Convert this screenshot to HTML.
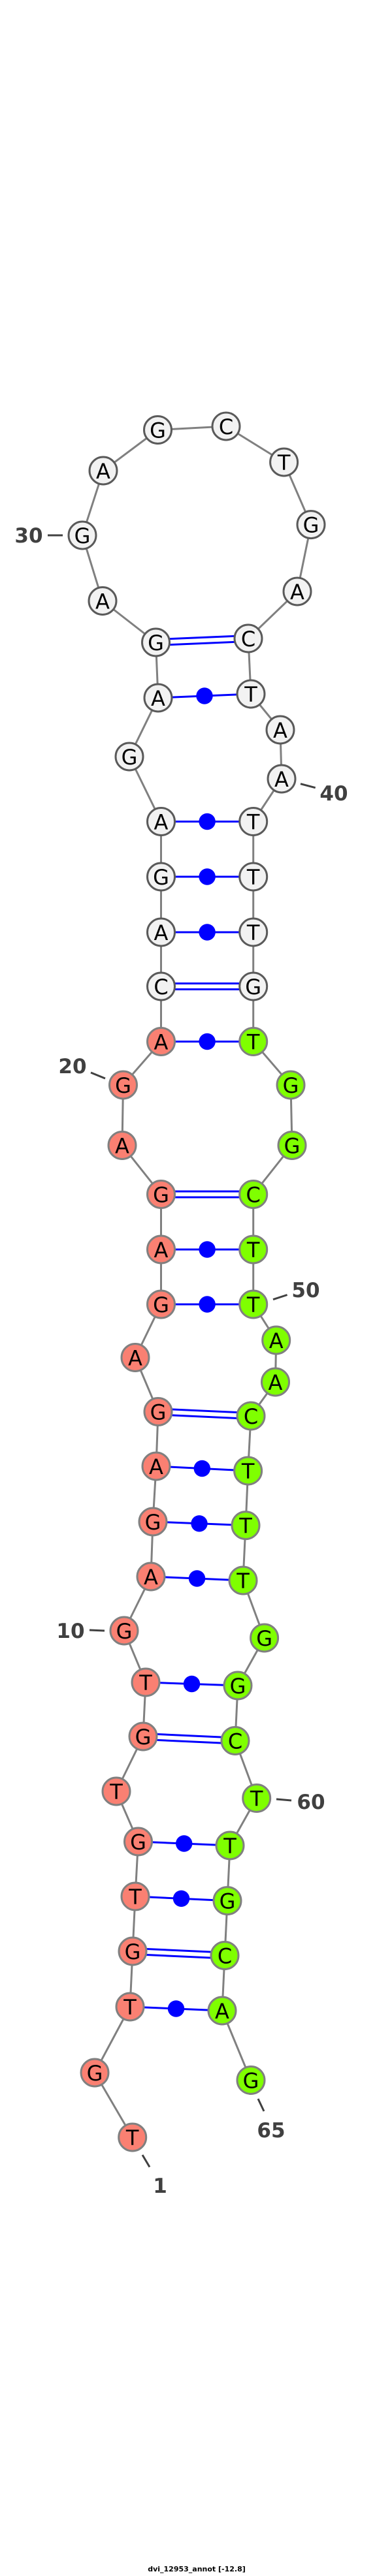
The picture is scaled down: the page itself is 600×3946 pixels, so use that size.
<!DOCTYPE html>
<html><head><meta charset="utf-8"><style>
html,body{margin:0;padding:0;background:#fff}
svg{display:block}
.bb{stroke:#808080;stroke-width:3;fill:none}
.p{stroke:#0000ff;stroke-width:3}
.w{fill:#f2f2f2;stroke:#5a5a5a;stroke-width:3}
.r{fill:#fa8072;stroke:#808080;stroke-width:3}
.g{fill:#7fff00;stroke:#808080;stroke-width:3}
.t{font-family:"DejaVu Sans","Liberation Sans",sans-serif;font-size:32px;text-anchor:middle;fill:#000}
.n{font-family:"DejaVu Sans","Liberation Sans",sans-serif;font-size:31px;font-weight:bold;text-anchor:middle;fill:#404040}
.k{stroke:#404040;stroke-width:3}
</style></head><body>
<svg width="600" height="3946" viewBox="0 0 600 3946" xmlns="http://www.w3.org/2000/svg">
<polyline class="bb" points="202.7,3274 145,3175 199,3074 203,2989 207,2905 211.5,2821 178,2744 219,2660 223,2577 190,2498 231,2415 234,2331 239,2246 242,2162.5 207,2079.5 246.5,1998 246.5,1914 246.5,1829.5 187,1754.5 188.5,1662 246.5,1595.5 246.5,1511 246.5,1428 246.5,1343 246.5,1258.5 198,1159 242,1069 238.5,984 157,920.5 126,820 158,721 241.5,658.5 346,653 434.6,708 476,803.6 455,906 380,978 384,1063 429,1118 431,1193 387.7,1258.5 387.7,1343 387.7,1428 387.7,1511 387.7,1595.5 445,1662 447,1754.5 387.7,1829.5 387.7,1914 387.7,1998 422.7,2053 421.5,2117 384,2169 379.6,2253 376,2336.6 372,2421 404.6,2509 364,2582 360,2666.5 392.7,2754.5 352,2827 348,2911.6 344,2995.5 340,3080 384,3186.5"/>
<!-- pairs: dots -->
<g class="p">
<line x1="199" y1="3074" x2="340" y2="3080"/>
<line x1="207" y1="2905" x2="348" y2="2911.6"/>
<line x1="211.5" y1="2821" x2="352" y2="2827"/>
<line x1="223" y1="2577" x2="364" y2="2582"/>
<line x1="231" y1="2415" x2="372" y2="2421"/>
<line x1="234" y1="2331" x2="376" y2="2336.6"/>
<line x1="239" y1="2246" x2="379.6" y2="2253"/>
<line x1="246.5" y1="1998" x2="387.7" y2="1998"/>
<line x1="246.5" y1="1914" x2="387.7" y2="1914"/>
<line x1="246.5" y1="1595.5" x2="387.7" y2="1595.5"/>
<line x1="246.5" y1="1428" x2="387.7" y2="1428"/>
<line x1="246.5" y1="1343" x2="387.7" y2="1343"/>
<line x1="246.5" y1="1258.5" x2="387.7" y2="1258.5"/>
<line x1="242" y1="1069" x2="384" y2="1063"/>
<!-- doubles -->
<line x1="203" y1="2984.5" x2="344" y2="2991"/><line x1="203" y1="2993.5" x2="344" y2="3000"/>
<line x1="219" y1="2655.5" x2="360" y2="2662"/><line x1="219" y1="2664.5" x2="360" y2="2671"/>
<line x1="242" y1="2158" x2="384" y2="2164.5"/><line x1="242" y1="2167" x2="384" y2="2173.5"/>
<line x1="246.5" y1="1825" x2="387.7" y2="1825"/><line x1="246.5" y1="1834" x2="387.7" y2="1834"/>
<line x1="246.5" y1="1506.5" x2="387.7" y2="1506.5"/><line x1="246.5" y1="1515.5" x2="387.7" y2="1515.5"/>
<line x1="238.5" y1="979.5" x2="380" y2="973.5"/><line x1="238.5" y1="988.5" x2="380" y2="982.5"/>
</g>
<g fill="#0000ff">
<circle cx="269.5" cy="3077" r="12.7"/>
<circle cx="277.5" cy="2908.3" r="12.7"/>
<circle cx="281.7" cy="2824" r="12.7"/>
<circle cx="293.5" cy="2579.5" r="12.7"/>
<circle cx="301.5" cy="2418" r="12.7"/>
<circle cx="305" cy="2333.8" r="12.7"/>
<circle cx="309.3" cy="2249.5" r="12.7"/>
<circle cx="317.1" cy="1998" r="12.7"/>
<circle cx="317.1" cy="1914" r="12.7"/>
<circle cx="317.1" cy="1595.5" r="12.7"/>
<circle cx="317.1" cy="1428" r="12.7"/>
<circle cx="317.1" cy="1343" r="12.7"/>
<circle cx="317.1" cy="1258.5" r="12.7"/>
<circle cx="313" cy="1066" r="12.7"/>
</g>
<!-- nodes -->
<g>
<circle class="r" cx="202.7" cy="3274" r="21"/><text class="t" x="202.7" y="3286">T</text>
<circle class="r" cx="145" cy="3175" r="21"/><text class="t" x="145" y="3187">G</text>
<circle class="r" cx="199" cy="3074" r="21"/><text class="t" x="199" y="3086">T</text>
<circle class="r" cx="203" cy="2989" r="21"/><text class="t" x="203" y="3001">G</text>
<circle class="r" cx="207" cy="2905" r="21"/><text class="t" x="207" y="2917">T</text>
<circle class="r" cx="211.5" cy="2821" r="21"/><text class="t" x="211.5" y="2833">G</text>
<circle class="r" cx="178" cy="2744" r="21"/><text class="t" x="178" y="2756">T</text>
<circle class="r" cx="219" cy="2660" r="21"/><text class="t" x="219" y="2672">G</text>
<circle class="r" cx="223" cy="2577" r="21"/><text class="t" x="223" y="2589">T</text>
<circle class="r" cx="190" cy="2498" r="21"/><text class="t" x="190" y="2510">G</text>
<circle class="r" cx="231" cy="2415" r="21"/><text class="t" x="231" y="2427">A</text>
<circle class="r" cx="234" cy="2331" r="21"/><text class="t" x="234" y="2343">G</text>
<circle class="r" cx="239" cy="2246" r="21"/><text class="t" x="239" y="2258">A</text>
<circle class="r" cx="242" cy="2162.5" r="21"/><text class="t" x="242" y="2174.5">G</text>
<circle class="r" cx="207" cy="2079.5" r="21"/><text class="t" x="207" y="2091.5">A</text>
<circle class="r" cx="246.5" cy="1998" r="21"/><text class="t" x="246.5" y="2010">G</text>
<circle class="r" cx="246.5" cy="1914" r="21"/><text class="t" x="246.5" y="1926">A</text>
<circle class="r" cx="246.5" cy="1829.5" r="21"/><text class="t" x="246.5" y="1841.5">G</text>
<circle class="r" cx="187" cy="1754.5" r="21"/><text class="t" x="187" y="1766.5">A</text>
<circle class="r" cx="188.5" cy="1662" r="21"/><text class="t" x="188.5" y="1674">G</text>
<circle class="r" cx="246.5" cy="1595.5" r="21"/><text class="t" x="246.5" y="1607.5">A</text>
<circle class="w" cx="246.5" cy="1511" r="21"/><text class="t" x="246.5" y="1523">C</text>
<circle class="w" cx="246.5" cy="1428" r="21"/><text class="t" x="246.5" y="1440">A</text>
<circle class="w" cx="246.5" cy="1343" r="21"/><text class="t" x="246.5" y="1355">G</text>
<circle class="w" cx="246.5" cy="1258.5" r="21"/><text class="t" x="246.5" y="1270.5">A</text>
<circle class="w" cx="198" cy="1159" r="21"/><text class="t" x="198" y="1171">G</text>
<circle class="w" cx="242" cy="1069" r="21"/><text class="t" x="242" y="1081">A</text>
<circle class="w" cx="238.5" cy="984" r="21"/><text class="t" x="238.5" y="996">G</text>
<circle class="w" cx="157" cy="920.5" r="21"/><text class="t" x="157" y="932.5">A</text>
<circle class="w" cx="126" cy="820" r="21"/><text class="t" x="126" y="832">G</text>
<circle class="w" cx="158" cy="721" r="21"/><text class="t" x="158" y="733">A</text>
<circle class="w" cx="241.5" cy="658.5" r="21"/><text class="t" x="241.5" y="670.5">G</text>
<circle class="w" cx="346" cy="653" r="21"/><text class="t" x="346" y="665">C</text>
<circle class="w" cx="434.6" cy="708" r="21"/><text class="t" x="434.6" y="720">T</text>
<circle class="w" cx="476" cy="803.6" r="21"/><text class="t" x="476" y="815.6">G</text>
<circle class="w" cx="455" cy="906" r="21"/><text class="t" x="455" y="918">A</text>
<circle class="w" cx="380" cy="978" r="21"/><text class="t" x="380" y="990">C</text>
<circle class="w" cx="384" cy="1063" r="21"/><text class="t" x="384" y="1075">T</text>
<circle class="w" cx="429" cy="1118" r="21"/><text class="t" x="429" y="1130">A</text>
<circle class="w" cx="431" cy="1193" r="21"/><text class="t" x="431" y="1205">A</text>
<circle class="w" cx="387.7" cy="1258.5" r="21"/><text class="t" x="387.7" y="1270.5">T</text>
<circle class="w" cx="387.7" cy="1343" r="21"/><text class="t" x="387.7" y="1355">T</text>
<circle class="w" cx="387.7" cy="1428" r="21"/><text class="t" x="387.7" y="1440">T</text>
<circle class="w" cx="387.7" cy="1511" r="21"/><text class="t" x="387.7" y="1523">G</text>
<circle class="g" cx="387.7" cy="1595.5" r="21"/><text class="t" x="387.7" y="1607.5">T</text>
<circle class="g" cx="445" cy="1662" r="21"/><text class="t" x="445" y="1674">G</text>
<circle class="g" cx="447" cy="1754.5" r="21"/><text class="t" x="447" y="1766.5">G</text>
<circle class="g" cx="387.7" cy="1829.5" r="21"/><text class="t" x="387.7" y="1841.5">C</text>
<circle class="g" cx="387.7" cy="1914" r="21"/><text class="t" x="387.7" y="1926">T</text>
<circle class="g" cx="387.7" cy="1998" r="21"/><text class="t" x="387.7" y="2010">T</text>
<circle class="g" cx="422.7" cy="2053" r="21"/><text class="t" x="422.7" y="2065">A</text>
<circle class="g" cx="421.5" cy="2117" r="21"/><text class="t" x="421.5" y="2129">A</text>
<circle class="g" cx="384" cy="2169" r="21"/><text class="t" x="384" y="2181">C</text>
<circle class="g" cx="379.6" cy="2253" r="21"/><text class="t" x="379.6" y="2265">T</text>
<circle class="g" cx="376" cy="2336.6" r="21"/><text class="t" x="376" y="2348.6">T</text>
<circle class="g" cx="372" cy="2421" r="21"/><text class="t" x="372" y="2433">T</text>
<circle class="g" cx="404.6" cy="2509" r="21"/><text class="t" x="404.6" y="2521">G</text>
<circle class="g" cx="364" cy="2582" r="21"/><text class="t" x="364" y="2594">G</text>
<circle class="g" cx="360" cy="2666.5" r="21"/><text class="t" x="360" y="2678.5">C</text>
<circle class="g" cx="392.7" cy="2754.5" r="21"/><text class="t" x="392.7" y="2766.5">T</text>
<circle class="g" cx="352" cy="2827" r="21"/><text class="t" x="352" y="2839">T</text>
<circle class="g" cx="348" cy="2911.6" r="21"/><text class="t" x="348" y="2923.6">G</text>
<circle class="g" cx="344" cy="2995.5" r="21"/><text class="t" x="344" y="3007.5">C</text>
<circle class="g" cx="340" cy="3080" r="21"/><text class="t" x="340" y="3092">A</text>
<circle class="g" cx="384" cy="3186.5" r="21"/><text class="t" x="384" y="3198.5">G</text>
</g>
<!-- numbering -->
<line class="k" x1="73" y1="820" x2="96" y2="820"/><text class="n" x="44" y="831">30</text>
<line class="k" x1="460" y1="1200.7" x2="482.7" y2="1206.7"/><text class="n" x="511" y="1226">40</text>
<line class="k" x1="139" y1="1643" x2="161" y2="1652"/><text class="n" x="111" y="1644">20</text>
<line class="k" x1="418" y1="1990.6" x2="439.6" y2="1983.5"/><text class="n" x="468" y="1987">50</text>
<line class="k" x1="137" y1="2497" x2="160" y2="2498"/><text class="n" x="108" y="2509">10</text>
<line class="k" x1="423" y1="2756" x2="446" y2="2758"/><text class="n" x="476" y="2771">60</text>
<line class="k" x1="218" y1="3301" x2="229" y2="3319.5"/><text class="n" x="245" y="3359">1</text>
<line class="k" x1="395" y1="3215" x2="404" y2="3234"/><text class="n" x="415" y="3274">65</text>
<text x="301" y="3939" font-family="DejaVu Sans, Liberation Sans, sans-serif" font-size="11" font-weight="bold" text-anchor="middle" fill="#000">dvi_12953_annot [-12.8]</text>
</svg>
</body></html>
